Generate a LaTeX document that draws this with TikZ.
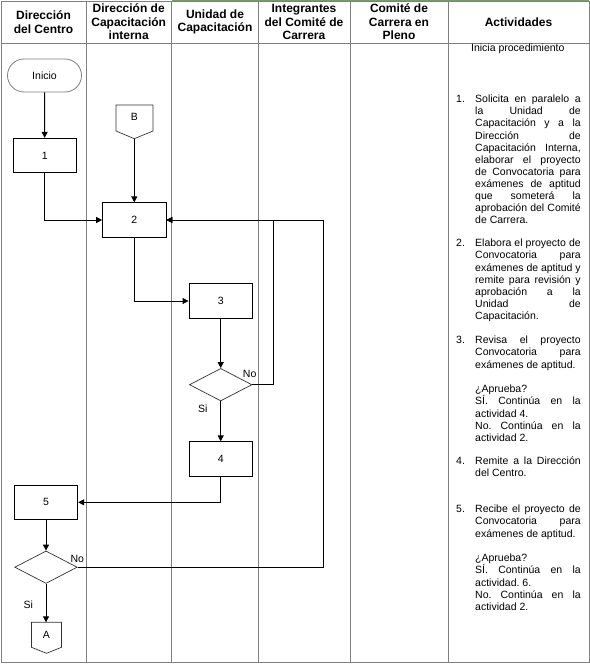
\documentclass[tikz,border=0pt]{standalone}
\usepackage{fontspec}
\setmainfont{Liberation Sans}
\usetikzlibrary{shapes.geometric,arrows.meta}
\definecolor{gridc}{RGB}{128,128,128}
\definecolor{topgreen}{RGB}{106,168,79}
\frenchspacing
\newcommand{\AJ}[3]{\node[act,anchor=base west] (#1) at (475,#2) {\makebox[105.5bp][s]{#3}};}
\newcommand{\AL}[3]{\node[act,anchor=base west] (#1) at (475,#2) {#3};}
\newcommand{\AN}[3]{\node[act,anchor=base west] (#1) at (456,#2) {#3};}
\begin{document}
\begin{tikzpicture}[x=1bp,y=-1bp,
  gridl/.style={draw=gridc,line width=0.9bp},
  hdr/.style={inner sep=0,align=center,font=\fontsize{12bp}{13.6bp}\bfseries\selectfont},
  act/.style={inner sep=0,font=\fontsize{10.5bp}{12.1bp}\selectfont},
  txt/.style={inner sep=0,font=\fontsize{10.5bp}{12.1bp}\selectfont},
  proc/.style={draw=black,line width=0.8bp,minimum width=63.5bp,minimum height=34.5bp,inner sep=0,font=\fontsize{10.5bp}{12.1bp}\selectfont},
  term/.style={draw=gray,line width=0.8bp,rounded corners=16.5bp,minimum width=74bp,minimum height=33bp,inner sep=0,font=\fontsize{10.5bp}{12.1bp}\selectfont},
  dec/.style={draw=black!80,line width=0.7bp,diamond,minimum width=62.5bp,minimum height=32.5bp,inner sep=0},
  offp/.style={draw=black!80,line width=0.7bp},
  conn/.style={line width=1bp,-{Triangle[length=6bp,width=6bp]}}]
\useasboundingbox (0,0) rectangle (590,666);
% table frame
\draw[gridl] (1,1) rectangle (589,662);
\draw[gridl] (1,43) -- (589,43);
\foreach \xx in {86,171.5,258.5,350,448} \draw[gridl] (\xx,1) -- (\xx,662);
\draw[draw=topgreen,line width=1bp] (172,0.6) -- (589,0.6);
% headers
\node[hdr] (h1) at (43.5,22) {Dirección\\del Centro};
\node[hdr] (h2) at (128.7,22) {Dirección de\\Capacitación\\interna};
\node[hdr] (h3) at (215,22) {Unidad de\\Capacitación};
\node[hdr] (h4) at (304,22) {Integrantes\\del Comité de\\Carrera};
\node[hdr] (h5) at (399,22) {Comité de\\Carrera en\\Pleno};
\node[hdr] (h6) at (518.5,22) {Actividades};
% flowchart nodes
\node[term] (ini) at (44.5,75.5) {Inicio};
\node[proc] (b1) at (44.7,155.5) {1};
\draw[offp] (116,105) -- (153,105) -- (153,131) -- (134.3,138.7) -- (116,131) -- cycle;
\node[txt] (B) at (134.5,117) {B};
\coordinate (Btip) at (134.3,138.7);
\node[proc] (b2) at (134.3,220) {2};
\node[proc] (b3) at (220.7,301) {3};
\node[dec] (d3) at (220.7,384.7) {};
\node[proc] (b4) at (220.7,459) {4};
\node[proc] (b5) at (46,502.3) {5};
\node[dec] (d5) at (46,567.2) {};
\draw[offp] (31.5,622.3) -- (61.5,622.3) -- (61.5,647.3) -- (46.5,653.3) -- (31.5,647.3) -- cycle;
\node[txt] (A) at (46.5,635) {A};
\coordinate (Atop) at (46,622.3);
\node[txt] (no3) at (249.7,374.3) {No};
\node[txt] (si3) at (202.7,408.3) {Si};
\node[txt] (no5) at (77.3,559) {No};
\node[txt] (si5) at (28.3,605) {Si};
\coordinate (j3) at (273.3,220);
\coordinate (j5) at (323.3,220);
% connectors
\draw[conn] (ini) -- (b1);
\draw[conn] (b1.south) |- (b2.west);
\draw[conn] (Btip) -- (b2.north);
\draw[conn] (b2.south) |- (b3.west);
\draw[conn] (b3) -- (d3);
\draw[conn] (d3) -- (b4);
\draw[conn] (d3.east) -| (j3) -- (b2.east);
\draw[conn] (d5.east) -| (j5) -- (b2.east);
\draw[conn] (b4.south) |- (b5.east);
\draw[conn] (b5) -- (d5);
\draw[conn] (d5) -- (Atop);
% activities
\node[act,anchor=base] (ini0) at (517.8,51.3) {Inicia procedimiento};
\AN{n1}{102.8}{1.}
\AJ{a11}{102.8}{Solicita en paralelo a}
\AJ{a12}{114.9}{la Unidad de}
\AJ{a13}{127}{Capacitación y a la}
\AJ{a14}{139.1}{Dirección de}
\AJ{a15}{151.2}{Capacitación Interna,}
\AJ{a16}{163.3}{elaborar el proyecto}
\AJ{a17}{175.4}{de Convocatoria para}
\AJ{a18}{187.5}{exámenes de aptitud}
\AJ{a19}{199.6}{que someterá la}
\AJ{a110}{211.7}{aprobación del Comité}
\AL{a111}{223.8}{de Carrera.}
\AN{n2}{246.8}{2.}
\AJ{a21}{246.8}{Elabora el proyecto de}
\AJ{a22}{258.9}{Convocatoria para}
\AJ{a23}{271}{exámenes de aptitud y}
\AJ{a24}{283.1}{remite para revisión y}
\AJ{a25}{295.2}{aprobación a la}
\AJ{a26}{307.3}{Unidad de}
\AL{a27}{319.4}{Capacitación.}
\AN{n3}{343.8}{3.}
\AJ{a31}{343.8}{Revisa el proyecto}
\AJ{a32}{355.9}{Convocatoria para}
\AL{a33}{368}{exámenes de aptitud.}
\AL{a34}{392.8}{¿Aprueba?}
\AJ{a35}{404.9}{SÍ. Continúa en la}
\AL{a36}{417}{actividad 4.}
\AJ{a37}{429.1}{No. Continúa en la}
\AL{a38}{441.2}{actividad 2.}
\AN{n4}{464.8}{4.}
\AJ{a41}{464.8}{Remite a la Dirección}
\AL{a42}{476.9}{del Centro.}
\AN{n5}{512.8}{5.}
\AJ{a51}{512.8}{Recibe el proyecto de}
\AJ{a52}{524.9}{Convocatoria para}
\AL{a53}{537}{exámenes de aptitud.}
\AL{a54}{561.8}{¿Aprueba?}
\AJ{a55}{573.9}{SÍ. Continúa en la}
\AL{a56}{586}{actividad. 6.}
\AJ{a57}{598.1}{No. Continúa en la}
\AL{a58}{610.2}{actividad 2.}
\end{tikzpicture}
\end{document}
